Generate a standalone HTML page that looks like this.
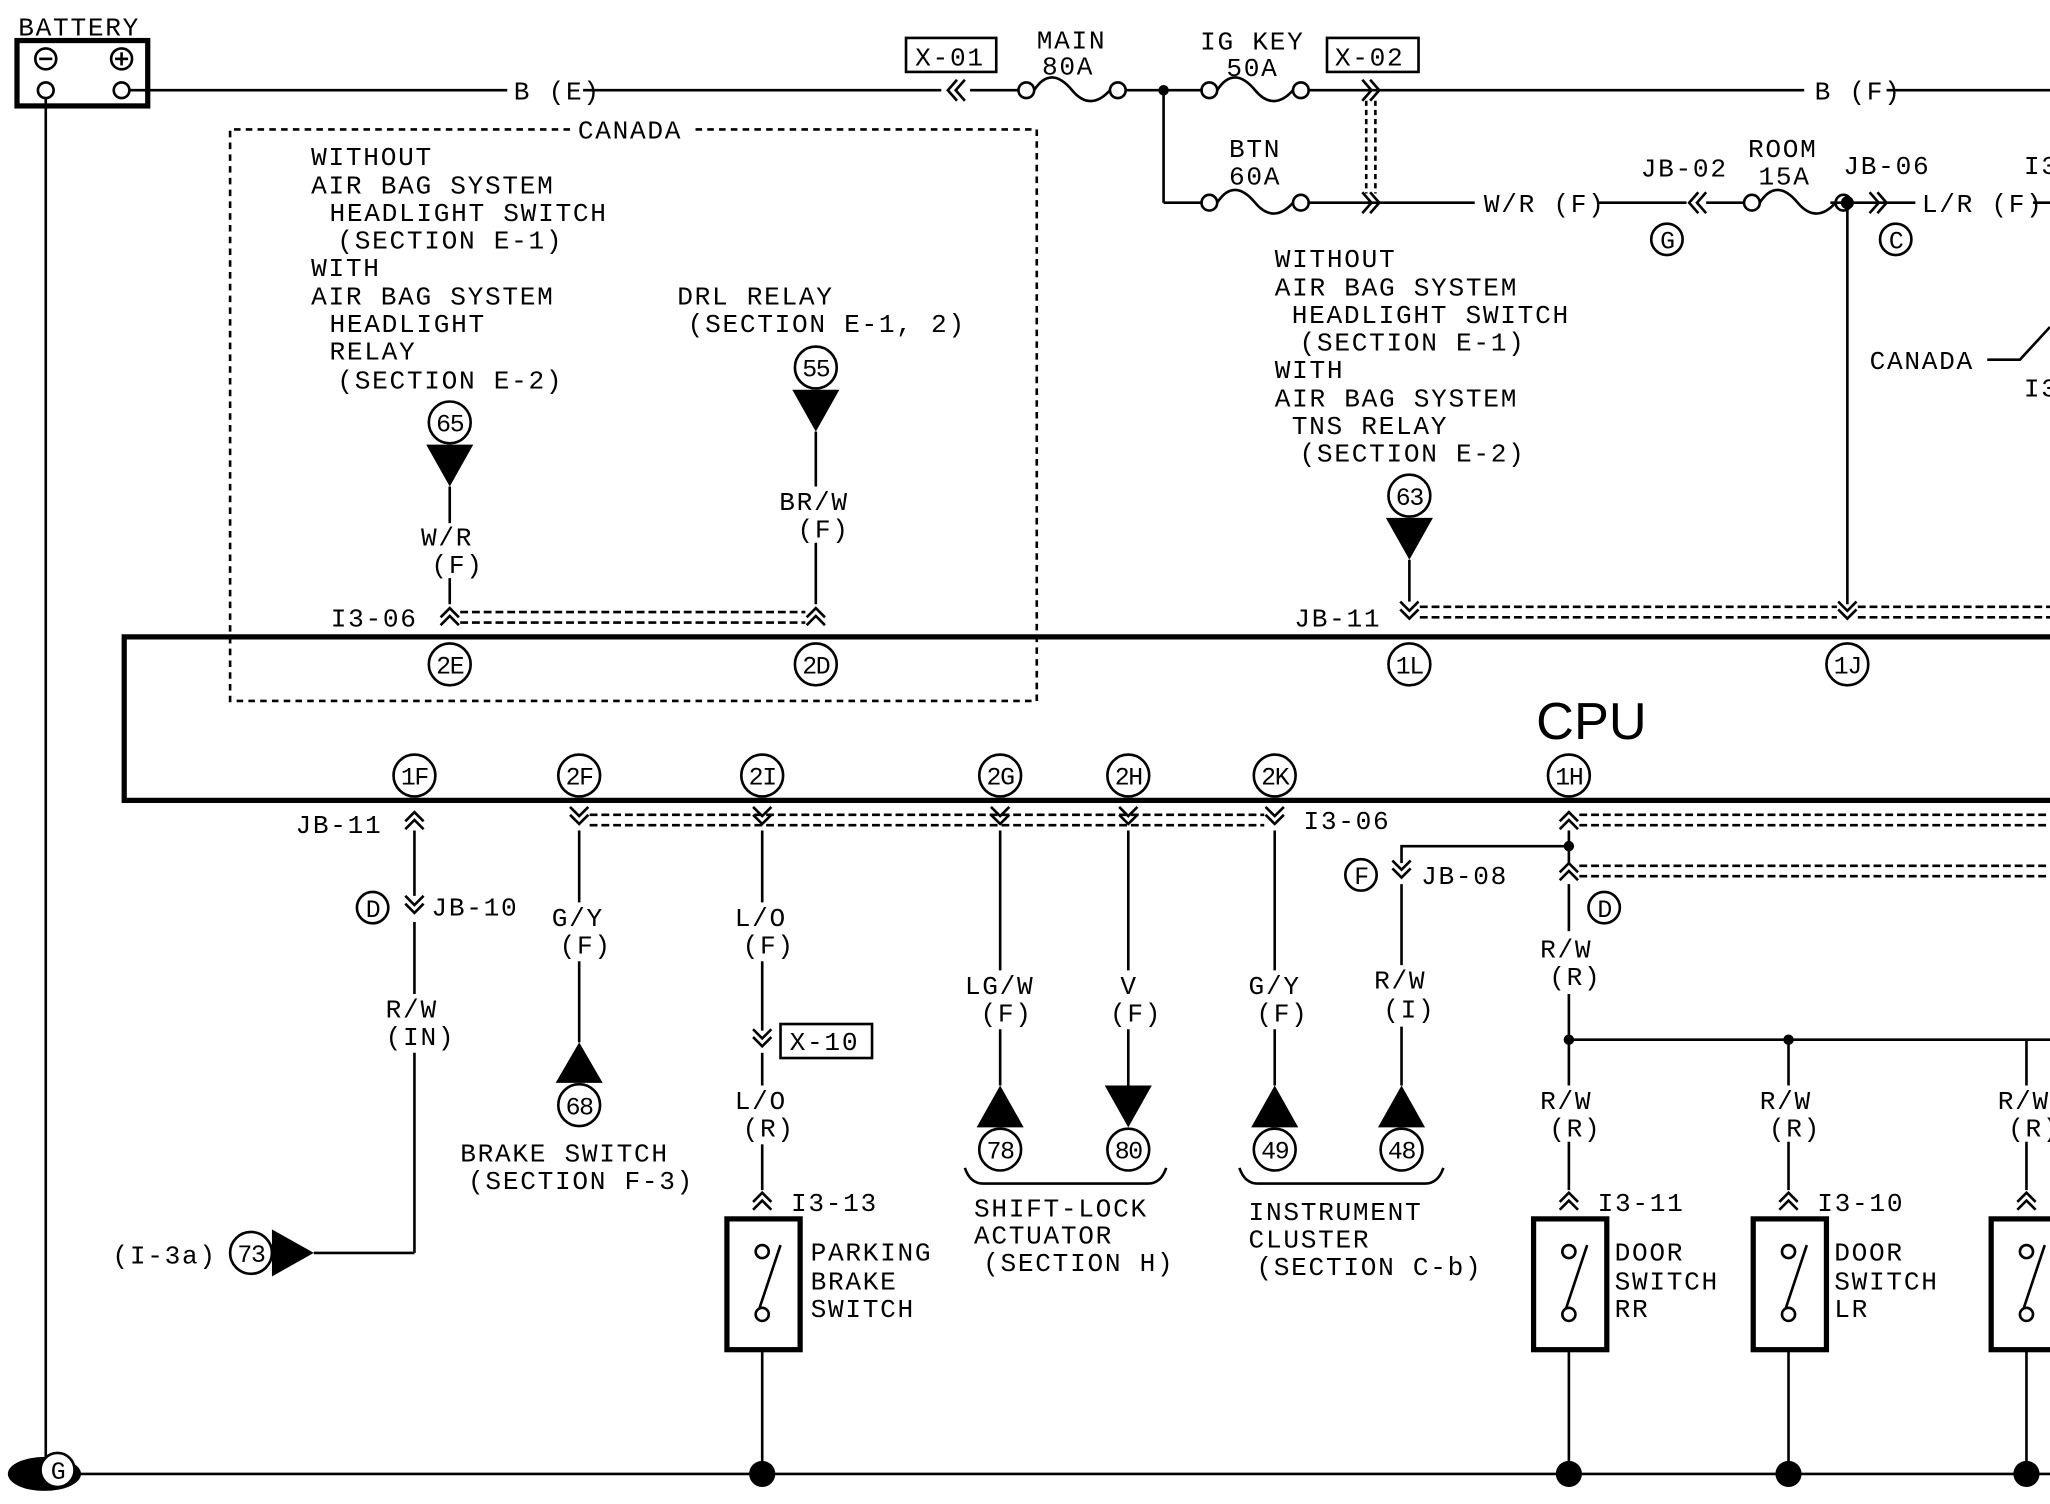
<!DOCTYPE html>
<html><head><meta charset="utf-8"><style>
html,body{margin:0;padding:0;background:#fff;}
svg{display:block;}
text{font-family:"Liberation Mono",monospace;font-size:20px;fill:#000;letter-spacing:1.3px;}
.c{font-size:19px;text-anchor:middle;letter-spacing:-1px;}
</style></head><body>
<svg width="2050" height="1504" viewBox="0 0 1568 1150" preserveAspectRatio="none" xmlns="http://www.w3.org/2000/svg">
<defs>
<g id="cu" fill="none" stroke="#000" stroke-width="2"><polyline points="-7,4 0,-3 7,4"/><polyline points="-7,10 0,3 7,10"/></g>
<g id="cd" fill="none" stroke="#000" stroke-width="2"><polyline points="-7,-4 0,3 7,-4"/><polyline points="-7,-10 0,-3 7,-10"/></g>
<g id="cl" fill="none" stroke="#000" stroke-width="2"><polyline points="4,-8 -3,0 4,8"/><polyline points="10,-8 3,0 10,8"/></g>
<g id="cr" fill="none" stroke="#000" stroke-width="2"><polyline points="-4,-8 3,0 -4,8"/><polyline points="-10,-8 -3,0 -10,8"/></g>
<g id="fuse" fill="none" stroke="#000" stroke-width="2"><circle cx="0" cy="0" r="6"/><circle cx="70" cy="0" r="6"/><path d="M6,0 C15,-14 25,-12 35,0 C45,12 55,10 64,0"/></g>
<g id="sw" fill="none" stroke="#000"><rect x="-27" y="0" width="56" height="100" stroke-width="4"/><circle cx="0" cy="25" r="5" stroke-width="2"/><circle cx="0" cy="73" r="5" stroke-width="2"/><line x1="-2" y1="68" x2="14" y2="20" stroke-width="2"/></g>
</defs>
<g stroke="#000" stroke-width="2" fill="none">
<rect x="13" y="31" width="100" height="50" stroke-width="4"/>
<circle cx="35" cy="45" r="8"/><circle cx="93" cy="45" r="8"/>
<line x1="30" y1="45" x2="40" y2="45"/><line x1="88" y1="45" x2="98" y2="45"/><line x1="93" y1="40" x2="93" y2="50"/>
<circle cx="35" cy="69" r="6"/><circle cx="93" cy="69" r="6"/>
<line x1="35" y1="75" x2="35" y2="1127"/>
<line x1="99" y1="69" x2="388" y2="69"/><line x1="446" y1="69" x2="720" y2="69"/>
<line x1="742" y1="69" x2="779" y2="69"/>
<line x1="861" y1="69" x2="920" y2="69"/><line x1="1000" y1="69" x2="1380" y2="69"/><line x1="1443" y1="69" x2="1568" y2="69"/>
<rect x="693" y="29" width="69" height="26"/><rect x="1015" y="29" width="70" height="26"/>
<line x1="890" y1="69" x2="890" y2="155"/><line x1="890" y1="155" x2="920" y2="155"/>
<line x1="1000" y1="155" x2="1128" y2="155"/><line x1="1222" y1="155" x2="1290" y2="155"/><line x1="1305" y1="155" x2="1334" y2="155"/>
<line x1="1400" y1="155" x2="1465" y2="155"/><line x1="1555" y1="155" x2="1568" y2="155"/>
<line x1="1045" y1="77" x2="1045" y2="148" stroke-dasharray="4,3"/><line x1="1052" y1="77" x2="1052" y2="148" stroke-dasharray="4,3"/>
<line x1="1413" y1="155" x2="1413" y2="462"/>
<polyline points="1520,275 1545,275 1568,250"/>
<path d="M436,99 L176,99 L176,536 L793,536 L793,99 L528,99" stroke-dasharray="5,4"/>
<line x1="344" y1="372" x2="344" y2="400"/><line x1="344" y1="442" x2="344" y2="462"/>
<line x1="624" y1="330" x2="624" y2="372"/><line x1="624" y1="415" x2="624" y2="462"/>
<line x1="1078" y1="428" x2="1078" y2="460"/>
<line x1="352" y1="468" x2="616" y2="468" stroke-dasharray="6,3"/><line x1="352" y1="476" x2="616" y2="476" stroke-dasharray="6,3"/>
<line x1="1086" y1="464" x2="1405" y2="464" stroke-dasharray="6,3"/><line x1="1086" y1="472" x2="1405" y2="472" stroke-dasharray="6,3"/>
<line x1="1421" y1="464" x2="1568" y2="464" stroke-dasharray="6,3"/><line x1="1421" y1="472" x2="1568" y2="472" stroke-dasharray="6,3"/>
<path d="M1570,487 L95,487 L95,612 L1570,612" stroke-width="4"/>
<line x1="451" y1="623" x2="967" y2="623" stroke-dasharray="6,3"/><line x1="451" y1="631" x2="967" y2="631" stroke-dasharray="6,3"/>
<line x1="1208" y1="623" x2="1568" y2="623" stroke-dasharray="6,3"/><line x1="1208" y1="631" x2="1568" y2="631" stroke-dasharray="6,3"/>
<line x1="1208" y1="662" x2="1568" y2="662" stroke-dasharray="6,3"/><line x1="1208" y1="670" x2="1568" y2="670" stroke-dasharray="6,3"/>
<line x1="317" y1="635" x2="317" y2="685"/><line x1="317" y1="705" x2="317" y2="760"/><line x1="317" y1="805" x2="317" y2="958"/><line x1="240" y1="958" x2="317" y2="958"/>
<line x1="443" y1="635" x2="443" y2="690"/><line x1="443" y1="735" x2="443" y2="797"/>
<line x1="583" y1="635" x2="583" y2="690"/><line x1="583" y1="735" x2="583" y2="788"/><line x1="583" y1="805" x2="583" y2="830"/><line x1="583" y1="875" x2="583" y2="910"/>
<line x1="765" y1="635" x2="765" y2="742"/><line x1="765" y1="787" x2="765" y2="830"/>
<line x1="863" y1="635" x2="863" y2="742"/><line x1="863" y1="787" x2="863" y2="830"/>
<line x1="975" y1="635" x2="975" y2="742"/><line x1="975" y1="787" x2="975" y2="830"/>
<line x1="1200" y1="635" x2="1200" y2="660"/><line x1="1200" y1="676" x2="1200" y2="712"/><line x1="1200" y1="760" x2="1200" y2="830"/><line x1="1200" y1="873" x2="1200" y2="910"/>
<polyline points="1200,647 1072,647 1072,660"/><line x1="1072" y1="676" x2="1072" y2="738"/><line x1="1072" y1="785" x2="1072" y2="830"/>
<line x1="1200" y1="795" x2="1568" y2="795"/>
<line x1="1368" y1="795" x2="1368" y2="830"/><line x1="1368" y1="873" x2="1368" y2="910"/>
<line x1="1550" y1="795" x2="1550" y2="830"/><line x1="1550" y1="873" x2="1550" y2="910"/>
<rect x="597" y="783" width="70" height="26"/>
<line x1="583" y1="1032" x2="583" y2="1127"/><line x1="1200" y1="1032" x2="1200" y2="1127"/><line x1="1368" y1="1032" x2="1368" y2="1127"/><line x1="1550" y1="1032" x2="1550" y2="1127"/>
<line x1="50" y1="1127" x2="1568" y2="1127"/>
<path d="M738,893 Q742,905 752,905 L878,905 Q888,905 892,893"/>
<path d="M948,893 Q952,905 962,905 L1090,905 Q1100,905 1104,893"/>
<g stroke-width="2"><circle cx="344" cy="508" r="16"/><circle cx="624" cy="508" r="16"/><circle cx="1078" cy="508" r="16"/><circle cx="1413" cy="508" r="16"/>
<circle cx="317" cy="593" r="16"/><circle cx="443" cy="593" r="16"/><circle cx="583" cy="593" r="16"/><circle cx="765" cy="593" r="16"/><circle cx="863" cy="593" r="16"/><circle cx="975" cy="593" r="16"/><circle cx="1200" cy="593" r="16"/>
<circle cx="344" cy="323" r="16"/><circle cx="624" cy="281" r="16"/><circle cx="1078" cy="379" r="16"/>
<circle cx="443" cy="845" r="16"/><circle cx="765" cy="879" r="16"/><circle cx="863" cy="879" r="16"/><circle cx="975" cy="879" r="16"/><circle cx="1072" cy="879" r="16"/><circle cx="192" cy="958" r="16"/>
<circle cx="1275" cy="183" r="12"/><circle cx="1450" cy="183" r="12"/><circle cx="285" cy="694" r="12"/><circle cx="1041" cy="669" r="12"/><circle cx="1227" cy="694" r="12"/></g>
</g>
<g fill="#000">
<use href="#fuse" x="785" y="69"/><use href="#fuse" x="925" y="69"/><use href="#fuse" x="925" y="155"/><use href="#fuse" x="1340" y="155"/>
<circle cx="890" cy="69" r="4"/><circle cx="1413" cy="155" r="5"/><circle cx="1200" cy="647" r="4"/><circle cx="1200" cy="795" r="4"/><circle cx="1368" cy="795" r="4"/>
<circle cx="583" cy="1127" r="10"/><circle cx="1200" cy="1127" r="10"/><circle cx="1368" cy="1127" r="10"/><circle cx="1550" cy="1127" r="10"/>
<ellipse cx="34" cy="1127" rx="28" ry="13"/><circle cx="44" cy="1124" r="13" fill="#fff" stroke="#000" stroke-width="2"/>
<polygon points="326,340 362,340 344,372"/><polygon points="606,298 642,298 624,330"/><polygon points="1060,396 1096,396 1078,428"/>
<polygon points="425,828 461,828 443,797"/><polygon points="747,862 783,862 765,830"/><polygon points="845,830 881,830 863,862"/><polygon points="957,862 993,862 975,830"/><polygon points="1054,862 1090,862 1072,830"/>
<polygon points="208,940 208,976 240,958"/>
</g>
<use href="#cl" x="728" y="69"/><use href="#cr" x="1052" y="69"/><use href="#cr" x="1052" y="155"/><use href="#cl" x="1295" y="155"/><use href="#cr" x="1440" y="155"/>
<use href="#cu" x="344" y="468"/><use href="#cu" x="624" y="468"/><use href="#cd" x="1078" y="470"/><use href="#cd" x="1413" y="470"/>
<use href="#cu" x="317" y="624"/><use href="#cd" x="443" y="627"/><use href="#cd" x="583" y="627"/><use href="#cd" x="765" y="627"/><use href="#cd" x="863" y="627"/><use href="#cd" x="975" y="627"/><use href="#cu" x="1200" y="624"/><use href="#cu" x="1200" y="663"/>
<use href="#cd" x="317" y="695"/><use href="#cd" x="1072" y="668"/><use href="#cd" x="583" y="797"/>
<use href="#cu" x="583" y="915"/><use href="#cu" x="1200" y="915"/><use href="#cu" x="1368" y="915"/><use href="#cu" x="1550" y="915"/>
<use href="#sw" x="583" y="932"/><use href="#sw" x="1200" y="932"/><use href="#sw" x="1368" y="932"/><use href="#sw" x="1550" y="932"/>
<text x="14" y="27">BATTERY</text>
<text x="393" y="76">B (E)</text><text x="1388" y="76">B (F)</text>
<text x="700" y="50">X-01</text><text x="1021" y="50">X-02</text>
<text x="793" y="37">MAIN</text><text x="797" y="57">80A</text>
<text x="918" y="38">IG KEY</text><text x="938" y="58">50A</text>
<text x="940" y="120">BTN</text><text x="940" y="141">60A</text>
<text x="1135" y="162">W/R (F)</text>
<text x="1255" y="135">JB-02</text><text x="1337" y="120">ROOM</text><text x="1345" y="141">15A</text><text x="1410" y="133">JB-06</text><text x="1548" y="133">I3</text>
<text x="1470" y="162">L/R (F) -</text>
<text x="1430" y="282">CANADA</text><text x="1548" y="303">I3</text>
<text x="442" y="106">CANADA</text>
<text x="238" y="126">WITHOUT</text><text x="238" y="148">AIR BAG SYSTEM</text><text x="252" y="169">HEADLIGHT SWITCH</text><text x="258" y="190">(SECTION E-1)</text>
<text x="238" y="211">WITH</text><text x="238" y="233">AIR BAG SYSTEM</text><text x="252" y="254">HEADLIGHT</text><text x="252" y="275">RELAY</text><text x="258" y="297">(SECTION E-2)</text>
<text x="518" y="233">DRL RELAY</text><text x="526" y="254">(SECTION E-1, 2)</text>
<text x="975" y="204">WITHOUT</text><text x="975" y="226">AIR BAG SYSTEM</text><text x="988" y="247">HEADLIGHT SWITCH</text><text x="994" y="268">(SECTION E-1)</text>
<text x="975" y="289">WITH</text><text x="975" y="311">AIR BAG SYSTEM</text><text x="988" y="332">TNS RELAY</text><text x="994" y="353">(SECTION E-2)</text>
<text x="322" y="417">W/R</text><text x="330" y="438">(F)</text>
<text x="596" y="390">BR/W</text><text x="610" y="411">(F)</text>
<text x="253" y="479">I3-06</text><text x="990" y="479">JB-11</text>
<text x="1175" y="565" style="font-family:'Liberation Sans',sans-serif;font-size:40px;letter-spacing:0">CPU</text>
<text x="226" y="637">JB-11</text><text x="997" y="634">I3-06</text>
<text x="330" y="700">JB-10</text><text x="1087" y="676">JB-08</text>
<text x="295" y="778">R/W</text><text x="295" y="799">(IN)</text>
<text x="422" y="708">G/Y</text><text x="428" y="729">(F)</text>
<text x="562" y="708">L/O</text><text x="568" y="729">(F)</text>
<text x="604" y="803">X-10</text>
<text x="562" y="848">L/O</text><text x="568" y="869">(R)</text>
<text x="738" y="760">LG/W</text><text x="750" y="781">(F)</text>
<text x="857" y="760">V</text><text x="849" y="781">(F)</text>
<text x="955" y="760">G/Y</text><text x="961" y="781">(F)</text>
<text x="1051" y="756">R/W</text><text x="1058" y="778">(I)</text>
<text x="1178" y="732">R/W</text><text x="1185" y="753">(R)</text>
<text x="1178" y="848">R/W</text><text x="1185" y="869">(R)</text>
<text x="1346" y="848">R/W</text><text x="1353" y="869">(R)</text>
<text x="1528" y="848">R/W</text><text x="1536" y="869">(R)</text>
<text x="352" y="888">BRAKE SWITCH</text><text x="358" y="909">(SECTION F-3)</text>
<text x="605" y="926">I3-13</text><text x="1222" y="926">I3-11</text><text x="1390" y="926">I3-10</text>
<text x="620" y="964">PARKING</text><text x="620" y="986">BRAKE</text><text x="620" y="1007">SWITCH</text>
<text x="745" y="930">SHIFT-LOCK</text><text x="745" y="951">ACTUATOR</text><text x="752" y="972">(SECTION H)</text>
<text x="955" y="933">INSTRUMENT</text><text x="955" y="954">CLUSTER</text><text x="961" y="975">(SECTION C-b)</text>
<text x="1235" y="964">DOOR</text><text x="1235" y="986">SWITCH</text><text x="1235" y="1007">RR</text>
<text x="1403" y="964">DOOR</text><text x="1403" y="986">SWITCH</text><text x="1403" y="1007">LR</text>
<text x="86" y="966">(I-3a)</text>
<text class="c" x="344" y="515">2E</text><text class="c" x="624" y="515">2D</text><text class="c" x="1078" y="515">1L</text><text class="c" x="1413" y="515">1J</text>
<text class="c" x="317" y="600">1F</text><text class="c" x="443" y="600">2F</text><text class="c" x="583" y="600">2I</text><text class="c" x="765" y="600">2G</text><text class="c" x="863" y="600">2H</text><text class="c" x="975" y="600">2K</text><text class="c" x="1200" y="600">1H</text>
<text class="c" x="344" y="330">65</text><text class="c" x="624" y="288">55</text><text class="c" x="1078" y="386">63</text>
<text class="c" x="443" y="852">68</text><text class="c" x="765" y="886">78</text><text class="c" x="863" y="886">80</text><text class="c" x="975" y="886">49</text><text class="c" x="1072" y="886">48</text><text class="c" x="192" y="965">73</text>
<text class="c" x="1275" y="190">G</text><text class="c" x="1450" y="190">C</text><text class="c" x="285" y="701">D</text><text class="c" x="1041" y="676">F</text><text class="c" x="1227" y="701">D</text>
<text class="c" x="44" y="1131">G</text>
</svg>
</body></html>
